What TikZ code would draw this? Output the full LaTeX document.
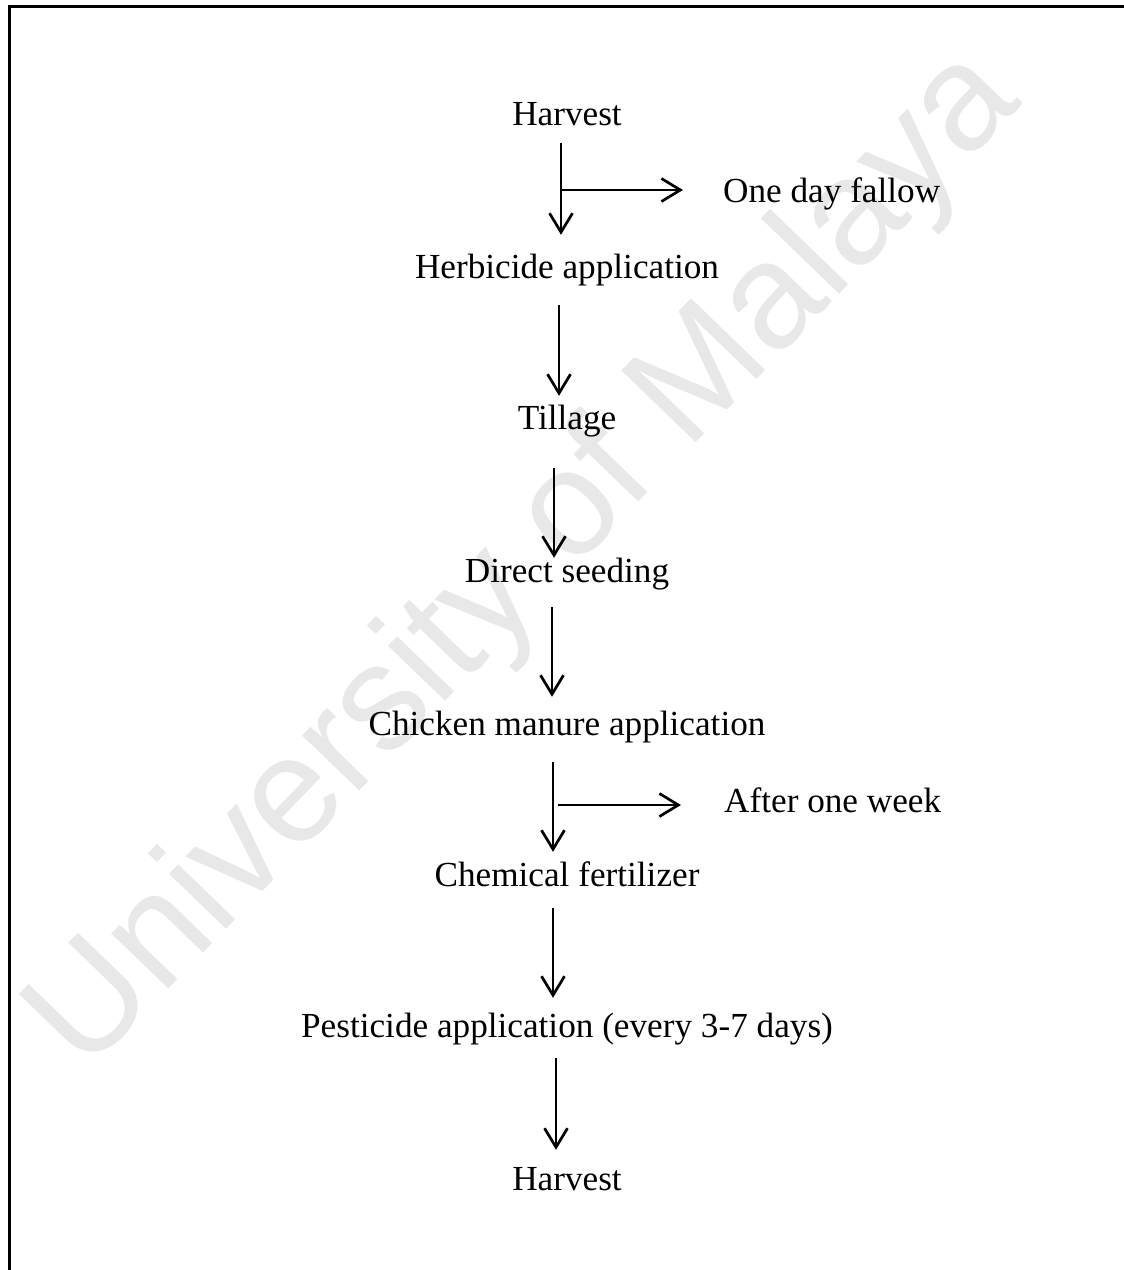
\documentclass[tikz,border=0pt]{standalone}
\usepackage{fontspec}
\setmainfont{Liberation Serif}
\newfontfamily\markfont{Liberation Sans}
\usetikzlibrary{arrows.meta}
\begin{document}
\begin{tikzpicture}[x=1pt,y=-1pt,
  step label/.style={font=\fontsize{35.2}{40}\selectfont, anchor=base, inner sep=0pt,
    text height=24pt, text depth=8pt},
  side label/.style={font=\fontsize{35.2}{40}\selectfont, anchor=base west, inner sep=0pt},
  flow/.style={line width=2.7pt, -{Straight Barb[length=19pt,width=23pt]}}]
  \useasboundingbox (0,0) rectangle (1124,1270);
  \clip (0,0) rectangle (1124,1270);
  \fill[white] (0,0) rectangle (1124,1270);

  % watermark
  \node[text=black!9, font=\markfont\fontsize{150}{150}\selectfont, rotate=46, inner sep=0pt]
    (mark) at (527,562) {University of Malaya};

  % frame
  \draw[line width=2.7pt] (9.5,1300) -- (9.5,6.5) -- (1150,6.5);

  % steps
  \node[step label] (h1) at (567,125) {Harvest};
  \node[step label] (herb) at (567,278) {Herbicide application};
  \node[step label] (till) at (567,429) {Tillage};
  \node[step label] (seed) at (567,582) {Direct seeding};
  \node[step label] (manure) at (567,735) {Chicken manure application};
  \node[step label] (chem) at (567,886) {Chemical fertilizer};
  \node[step label] (pest) at (567,1037) {Pesticide application (every 3-7 days)};
  \node[step label] (h2) at (567,1190) {Harvest};

  \node[side label] (fallow) at (723,202) {One day fallow};
  \node[side label] (week) at (724,812) {After one week};

  % main flow
  \draw[flow] ([xshift=-6pt,yshift=-10pt]h1.south) -- ([xshift=-6pt,yshift=19pt]herb.north);
  \draw[flow] ([xshift=-8pt,yshift=-19pt]herb.south) -- ([xshift=-8pt,yshift=9pt]till.north);
  \draw[flow] ([xshift=-13pt,yshift=-31pt]till.south) -- ([xshift=-13pt,yshift=0pt]seed.north);
  \draw[flow] ([xshift=-15pt,yshift=-17pt]seed.south) -- ([xshift=-15pt,yshift=14pt]manure.north);
  \draw[flow] ([xshift=-14pt,yshift=-19pt]manure.south) -- ([xshift=-14pt,yshift=10pt]chem.north);
  \draw[flow] ([xshift=-14pt,yshift=-14pt]chem.south) -- ([xshift=-14pt,yshift=15pt]pest.north);
  \draw[flow] ([xshift=-11pt,yshift=-13pt]pest.south) -- ([xshift=-11pt,yshift=16pt]h2.north);

  % side branches
  \coordinate (b1) at (561,190);
  \coordinate (b2) at (558,805);
  \draw[flow, shorten >=40pt] (b1) -- (b1 -| fallow.west);
  \draw[flow, shorten >=43pt] (b2) -- (b2 -| week.west);
\end{tikzpicture}
\end{document}
